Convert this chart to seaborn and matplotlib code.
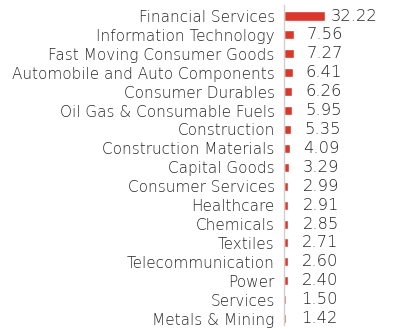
import matplotlib
matplotlib.use("Agg")
import matplotlib.pyplot as plt
import seaborn as sns
import pandas as pd
import numpy as np

categories = ["Financial Services", "Information Technology", "Fast Moving Consumer Goods",
              "Automobile and Auto Components", "Consumer Durables", "Oil Gas & Consumable Fuels",
              "Construction", "Construction Materials", "Capital Goods", "Consumer Services",
              "Healthcare", "Chemicals", "Textiles", "Telecommunication", "Power", "Services",
              "Metals & Mining"]
values = [32.22, 7.56, 7.27, 6.41, 6.26, 5.95, 5.35, 4.09, 3.29, 2.99, 2.91, 2.85, 2.71,
          2.60, 2.40, 1.50, 1.42]

df = pd.DataFrame({"sector": categories, "weight": values})

sns.set_style("white")
plt.rcParams['font.family'] = ['DejaVu Sans']
plt.rcParams['font.weight'] = 'light'

fig = plt.figure(figsize=(3.93, 3.29), dpi=100)
ax = fig.add_axes([0.7239, 0.0, 0.2761, 1.0])

sns.barplot(data=df, x="weight", y="sector", color="#d8392b", width=0.48,
            saturation=1, ax=ax, orient="h")

ax.set_xlim(0, 85.8)
ax.set_ylim(16.55, -0.847)
ax.set_xlabel("")
ax.set_ylabel("")
ax.set_xticks([])
for s in ["top", "right", "bottom"]:
    ax.spines[s].set_visible(False)
ax.spines["left"].set_color("#d0d0d0")
ax.spines["left"].set_linewidth(1.0)
ax.spines["left"].set_bounds(16.35, -0.6)
ax.tick_params(axis="y", length=0, pad=7, labelsize=11, labelcolor="#262626")
ax.set_yticks(np.arange(-0.5, len(categories) - 0.5, 1.0), minor=True)
ax.tick_params(axis="y", which="minor", length=3, color="#d0d0d0", width=1)

for i, v in enumerate(values):
    ax.text(v * 0.764 + 12.0, i, f"{v:.2f}", va="center", ha="left",
            fontsize=11.8, color="#262626", fontweight="light")

fig.savefig("out.png", dpi=100)
